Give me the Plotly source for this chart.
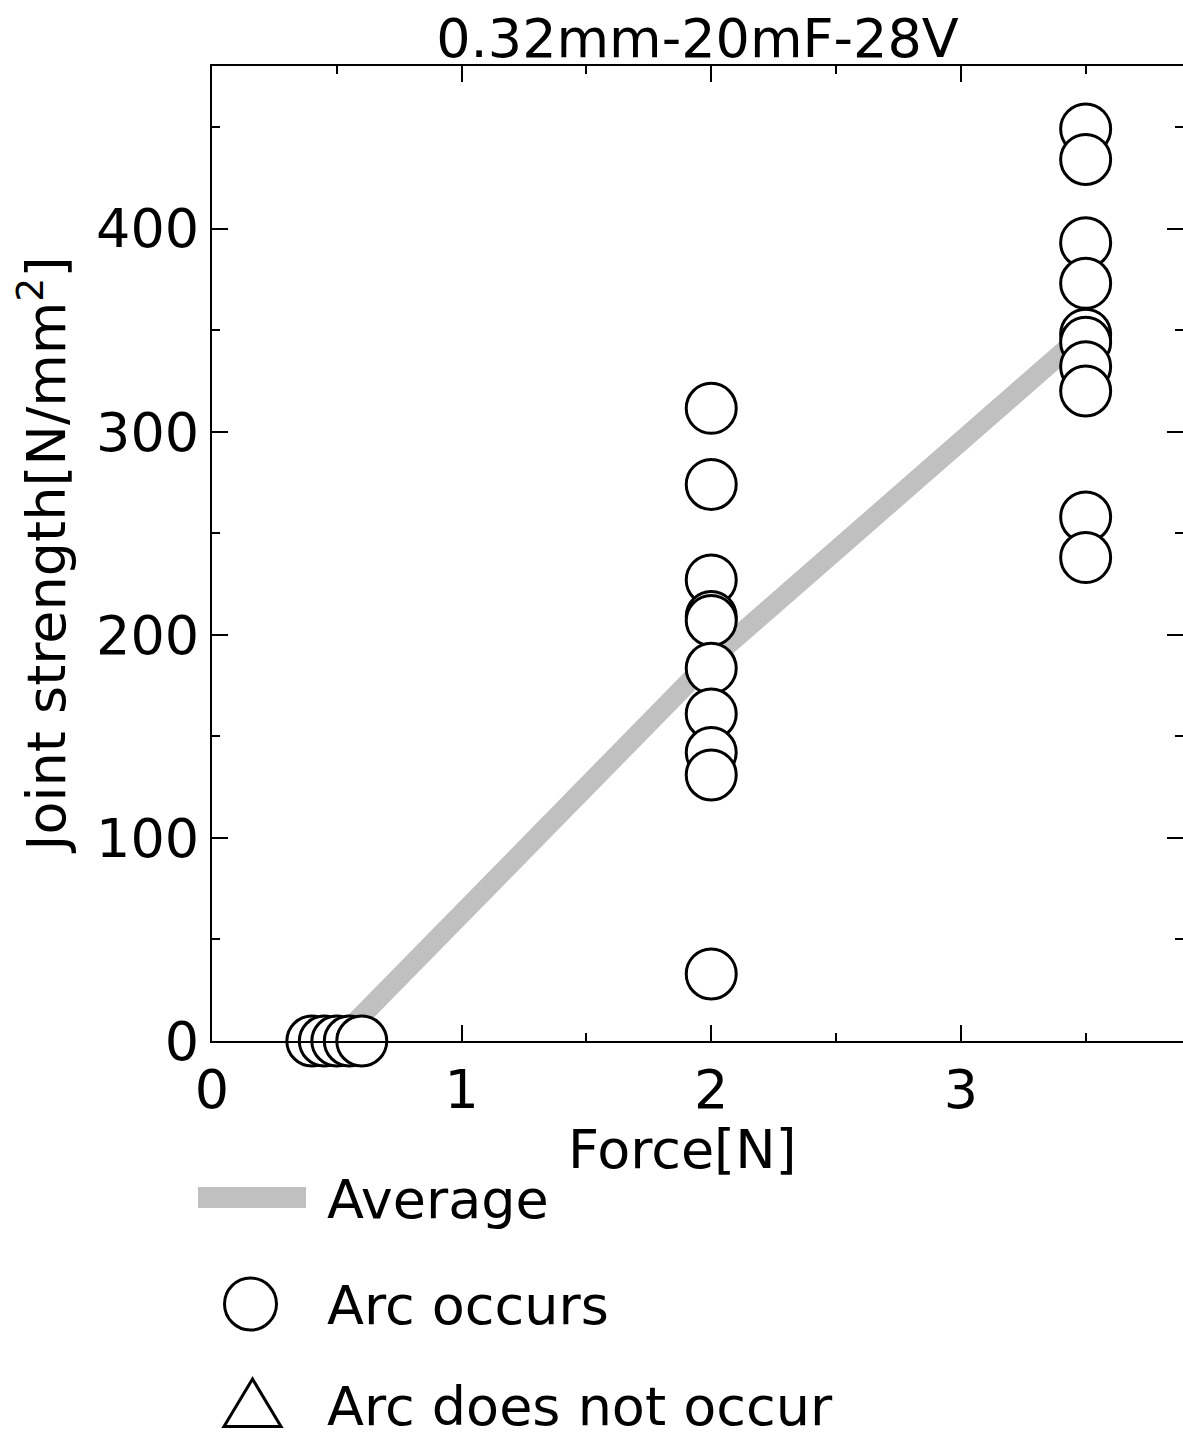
import numpy as np
import plotly.graph_objects as go

# ---------------- data ----------------
low_force = [0.4, 0.45, 0.5, 0.55, 0.6]
low_strength = [0, 0, 0, 0, 0]

mid_force = [2, 2, 2, 2, 2, 2, 2, 2, 2, 2]
mid_strength = [311.5, 274, 227, 209, 207, 183.5, 161, 142, 131, 33]

high_force = [3.5, 3.5, 3.5, 3.5, 3.5, 3.5, 3.5, 3.5, 3.5, 3.5]
high_strength = [449, 434, 393, 373, 348, 344, 332, 320, 258, 238]

title_text = "0.32mm-20mF-28V"
x_title = "Force[N]"
y_title = "Joint strength[N/mm<sup>2</sup>]"
legend_labels = ["Average", "Arc occurs", "Arc does not occur"]

x_tickvals = [0, 1, 2, 3]
y_tickvals = [0, 100, 200, 300, 400]
x_range = [0, 3.89]
y_range = [0, 480]

# averages of each force group
groups = [(low_force, low_strength), (mid_force, mid_strength), (high_force, high_strength)]
avg_force = [float(np.mean(f)) for f, s in groups]
avg_strength = [float(np.mean(s)) for f, s in groups]

# ---------------- layout geometry ----------------
W, H = 1183, 1437
L, T, B = 212, 66, 396
PW = W - L
PH = H - T - B
FONT = "DejaVu Sans"
FS = 54

def px_x(px):
    return (px - L) / PW

def px_y(py):
    return (H - B - py) / PH

fig = go.Figure()

fig.add_trace(go.Scatter(
    x=avg_force, y=avg_strength, mode="lines",
    line=dict(color="#c0c0c0", width=20),
    name=legend_labels[0], showlegend=False, hoverinfo="skip"))

all_force = low_force + mid_force + high_force
all_strength = low_strength + mid_strength + high_strength
fig.add_trace(go.Scatter(
    x=all_force, y=all_strength, mode="markers",
    marker=dict(symbol="circle", size=50, color="white",
                line=dict(color="black", width=3)),
    name=legend_labels[1], showlegend=False, cliponaxis=False))

# invisible trace to carry the mirrored (top / right) tick axes
fig.add_trace(go.Scatter(
    x=avg_force, y=avg_strength, xaxis="x2", yaxis="y2", mode="lines",
    line=dict(width=0), opacity=0, showlegend=False, hoverinfo="skip"))

# ---------------- manual legend ----------------
shapes = []
shapes.append(dict(type="line", xref="paper", yref="paper",
                   x0=px_x(198), x1=px_x(306), y0=px_y(1197.5), y1=px_y(1197.5),
                   line=dict(color="#c0c0c0", width=21)))
shapes.append(dict(type="circle", xref="paper", yref="paper",
                   xsizemode="pixel", ysizemode="pixel",
                   xanchor=px_x(250.5), yanchor=px_y(1304),
                   x0=-26, x1=26, y0=-26, y1=26,
                   line=dict(color="black", width=3), fillcolor="white"))
shapes.append(dict(type="path", xref="paper", yref="paper",
                   xsizemode="pixel", ysizemode="pixel",
                   xanchor=px_x(252.5), yanchor=px_y(1403),
                   path="M 0 24 L -28.5 -23.5 L 28.5 -23.5 Z",
                   line=dict(color="black", width=3), fillcolor="white"))

annotations = []
for lab, py in zip(legend_labels, [1199, 1305, 1406]):
    annotations.append(dict(text=lab, xref="paper", yref="paper",
                            x=px_x(325), y=px_y(py), xanchor="left", yanchor="middle",
                            showarrow=False, font=dict(family=FONT, size=FS, color="black")))
# x-axis title
annotations.append(dict(text=x_title, xref="paper", yref="paper",
                        x=px_x(682), y=px_y(1149), xanchor="center", yanchor="middle",
                        showarrow=False, font=dict(family=FONT, size=FS, color="black")))

tick_common = dict(ticks="inside", ticklen=16, tickwidth=2, tickcolor="black",
                   showgrid=False, zeroline=False)
minor_x = dict(dtick=0.5, ticklen=8, tickwidth=2, tickcolor="black", ticks="inside")
minor_y = dict(dtick=50, ticklen=8, tickwidth=2, tickcolor="black", ticks="inside")

fig.update_layout(
    width=W, height=H,
    margin=dict(l=L, r=0, t=T, b=B, pad=0),
    paper_bgcolor="white", plot_bgcolor="white",
    showlegend=False,
    title=dict(text=title_text, x=(L + PW / 2) / W, xanchor="center",
               y=1 - 38 / H, yanchor="middle", yref="container",
               font=dict(family=FONT, size=FS, color="black")),
    xaxis=dict(range=x_range, tickvals=x_tickvals, minor=minor_x,
               showline=True, linecolor="black", linewidth=2,
               tickfont=dict(family=FONT, size=FS, color="black"),
               **tick_common),
    yaxis=dict(range=y_range, tickvals=y_tickvals, minor=minor_y,
               showline=True, linecolor="black", linewidth=2,
               tickfont=dict(family=FONT, size=FS, color="black"),
               title=dict(text=y_title, font=dict(family=FONT, size=FS, color="black"), standoff=13),
               **tick_common),
    xaxis2=dict(range=x_range, tickvals=x_tickvals, minor=minor_x,
                overlaying="x", side="top", anchor="y",
                showline=True, linecolor="black", linewidth=2,
                showticklabels=False, **tick_common),
    yaxis2=dict(range=y_range, tickvals=y_tickvals, minor=minor_y,
                overlaying="y", side="right", anchor="x",
                showline=False, showticklabels=False, **tick_common),
    shapes=shapes,
    annotations=annotations,
)

fig.write_html("out.html")
